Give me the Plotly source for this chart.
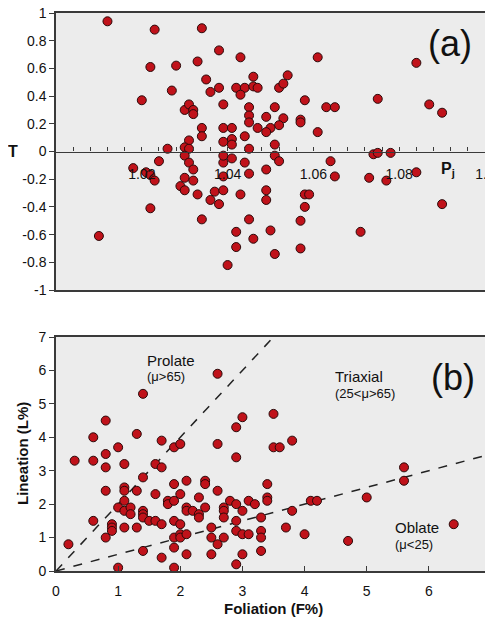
import plotly.graph_objects as go

# ---------------- data: panel (a)  Pj vs T ----------------
pj = [1.012, 1.023, 1.034, 1.022, 1.028, 1.033, 1.038, 1.043, 1.035, 1.027,
      1.020, 1.036, 1.038, 1.042, 1.044, 1.043, 1.039, 1.030, 1.031, 1.032,
      1.032, 1.034, 1.034, 1.039, 1.041, 1.039, 1.041, 1.041, 1.044, 1.031,
      1.030, 1.031, 1.026, 1.046, 1.046, 1.047, 1.052, 1.053, 1.054, 1.058,
      1.063, 1.065, 1.045, 1.051, 1.045, 1.045, 1.049, 1.053, 1.052, 1.050,
      1.049, 1.047, 1.057, 1.057, 1.061, 1.045, 1.051, 1.061, 1.084, 1.075,
      1.087, 1.090,
      1.074, 1.075, 1.078, 1.051, 1.052, 1.044, 1.045, 1.049, 1.064, 1.065,
      1.073, 1.077, 1.084, 1.090, 1.043, 1.049, 1.049, 1.058, 1.059, 1.058,
      1.045, 1.057, 1.050, 1.046, 1.071, 1.057, 1.051, 1.042, 1.042, 1.040,
      1.030, 1.031, 1.032, 1.030, 1.032, 1.029, 1.030, 1.033, 1.034, 1.024,
      1.018, 1.021, 1.022, 1.023, 1.022, 1.010, 1.036, 1.037, 1.038, 1.039,
      1.039, 1.039, 1.039, 1.041]
t_param = [0.94, 0.88, 0.89, 0.61, 0.62, 0.65, 0.73, 0.68, 0.52, 0.44,
           0.37, 0.43, 0.46, 0.46, 0.46, 0.41, 0.34, 0.30, 0.34, 0.30,
           0.27, 0.17, 0.11, 0.17, 0.17, 0.07, 0.09, 0.05, 0.11, 0.08,
           0.03, 0.02, 0.02, 0.54, 0.47, 0.46, 0.46, 0.49, 0.55, 0.37,
           0.32, 0.32, 0.32, 0.32, 0.26, 0.21, 0.25, 0.24, 0.19, 0.17,
           0.14, 0.17, 0.23, 0.21, 0.14, 0.02, 0.05, 0.68, 0.64, 0.38,
           0.34, 0.28,
           -0.02, -0.01, -0.01, -0.03, -0.07, -0.08, -0.16, -0.13, -0.07, -0.18,
           -0.19, -0.21, -0.15, -0.38, -0.31, -0.28, -0.35, -0.31, -0.31, -0.40,
           -0.49, -0.50, -0.57, -0.63, -0.58, -0.70, -0.74, -0.58, -0.69, -0.82,
           -0.03, -0.08, -0.13, -0.19, -0.21, -0.25, -0.28, -0.31, -0.49, -0.07,
           -0.12, -0.15, -0.17, -0.21, -0.41, -0.61, -0.35, -0.29, -0.38, -0.28,
           -0.18, -0.08, -0.03, -0.05]

# ---------------- data: panel (b)  Foliation vs Lineation ----------------
foliation = [0.2, 0.3, 0.6, 0.6, 0.6, 0.8, 0.8, 0.8, 0.8, 0.8,
             0.9, 0.9, 0.9, 1.0, 1.0, 1.0, 1.1, 1.1, 1.1, 1.1,
             1.1, 1.1, 1.2, 1.2, 1.3, 1.3, 1.3, 1.4, 1.4, 1.4,
             1.4, 1.4, 1.4, 1.5, 1.6, 1.6, 1.6, 1.7, 1.7, 1.7,
             1.7, 1.8, 1.8, 1.9, 1.9, 1.9, 1.9, 1.9, 1.9, 1.9,
             2.0, 2.0, 2.0, 2.0, 2.0, 2.1, 2.1, 2.1, 2.1, 2.1,
             2.2, 2.3, 2.3, 2.3, 2.4, 2.4, 2.4, 2.5, 2.5, 2.5,
             2.6, 2.6, 2.6, 2.6, 2.7, 2.7, 2.7, 2.7, 2.8, 2.9,
             2.9, 2.9, 2.9, 2.9, 2.9, 3.0, 3.0, 3.0, 3.0, 3.1,
             3.1, 3.2, 3.3, 3.3, 3.3, 3.3, 3.4, 3.4, 3.4, 3.5,
             3.5, 3.6, 3.7, 3.8, 3.8, 4.0, 4.1, 4.2, 4.7, 5.0,
             5.6, 5.6, 6.4]
lineation = [0.8, 3.3, 4.0, 3.3, 1.5, 4.5, 3.5, 3.1, 2.4, 1.0,
             1.4, 1.3, 1.2, 3.7, 1.9, 0.1, 3.2, 2.5, 2.4, 2.1,
             1.8, 1.3, 1.9, 1.7, 4.1, 2.4, 1.3, 5.3, 2.8, 1.8,
             1.7, 1.6, 0.6, 1.5, 3.2, 2.3, 1.5, 3.9, 3.1, 1.4,
             0.4, 2.1, 2.0, 3.7, 2.6, 2.1, 1.5, 1.0, 0.7, 0.1,
             3.8, 2.3, 1.4, 1.1, 1.0, 2.7, 1.9, 1.8, 1.1, 0.5,
             1.8, 2.2, 1.7, 1.6, 2.7, 2.6, 1.9, 1.3, 1.0, 0.5,
             5.9, 3.8, 2.4, 0.8, 1.9, 1.8, 1.6, 1.0, 2.1, 4.3,
             3.4, 2.0, 1.5, 1.2, 0.2, 4.6, 1.8, 1.1, 0.5, 2.1,
             1.1, 2.0, 1.6, 1.2, 1.0, 0.6, 2.6, 2.2, 2.1, 4.7,
             3.7, 3.7, 1.3, 3.9, 1.8, 1.1, 2.1, 2.1, 0.9, 2.2,
             3.1, 2.7, 1.4]

# shape-field boundaries (from origin)
prolate_f = [0, 3.5]
prolate_l = [0, 7]
oblate_f = [0, 7]
oblate_l = [0, 3.5]

# ---------------- tick labels ----------------
t_tick_vals = [1, 0.8, 0.6, 0.4, 0.2, 0, -0.2, -0.4, -0.6, -0.8, -1]
t_tick_text = ["1", "0.8", "0.6", "0.4", "0.2", "0", "-0.2", "-0.4", "-0.6", "-0.8", "-1"]
pj_major_vals = [1.02, 1.04, 1.06, 1.08, 1.1]
pj_major_text = ["1.02", "1.04", "1.06", "1.08", "1.1"]
pj_minor_vals = [round(1.0 + 0.004 * i, 3) for i in range(26)]
fl_tick_vals = [0, 1, 2, 3, 4, 5, 6, 7]
fl_tick_text = ["0", "1", "2", "3", "4", "5", "6", "7"]

# The page body keeps its default 8px margin, so the figure is drawn 8px in
# from the window's top-left corner; size and place it accordingly.
OFF = 8
W, H = 493 - OFF, 620 - OFF
FONT = "Liberation Sans, Arial, sans-serif"
FRAME = "#3a3a3a"
BG = "#ececec"
FILL = "#c0121a"
EDGE = "#2a0a0a"


def px_x(p):
    return (p - OFF) / W


def px_y(p):
    return 1 - (p - OFF) / H


xa_dom = [px_x(56), px_x(485)]
ya_dom = [px_y(290), px_y(13)]
xb_dom = [px_x(56), px_x(491)]
yb_dom = [px_y(571), px_y(337)]

zero_pos = ya_dom[0] + (0 - (-1)) / 2 * (ya_dom[1] - ya_dom[0])

fig = go.Figure()

marker = dict(size=9, color=FILL, line=dict(color=EDGE, width=1))

fig.add_trace(go.Scatter(x=pj, y=t_param, mode="markers", marker=marker,
                         xaxis="x", yaxis="y", showlegend=False, hoverinfo="x+y"))

fig.add_trace(go.Scatter(x=prolate_f, y=prolate_l, mode="lines",
                         line=dict(color="#222222", width=1.5, dash="dash"),
                         xaxis="x2", yaxis="y2", showlegend=False, hoverinfo="skip"))
fig.add_trace(go.Scatter(x=oblate_f, y=oblate_l, mode="lines",
                         line=dict(color="#222222", width=1.5, dash="dash"),
                         xaxis="x2", yaxis="y2", showlegend=False, hoverinfo="skip"))
fig.add_trace(go.Scatter(x=foliation, y=lineation, mode="markers", marker=marker,
                         xaxis="x2", yaxis="y2", showlegend=False, hoverinfo="x+y"))

# dummy trace so the zero-line axis (x3) renders
fig.add_trace(go.Scatter(x=[None], y=[None], xaxis="x3", yaxis="y", showlegend=False,
                         hoverinfo="skip"))

tickfont = dict(family=FONT, size=14, color="#111111")

fig.update_layout(
    width=W, height=H,
    margin=dict(l=0, r=0, t=0, b=0, autoexpand=False),
    paper_bgcolor="white",
    plot_bgcolor=BG,
    font=dict(family=FONT, color="#111111"),
    xaxis=dict(domain=xa_dom, anchor="y", range=[1.0, 1.1], showgrid=False, zeroline=False,
               showticklabels=False, ticks="", showline=True, mirror=True, automargin=False,
               linecolor=FRAME, linewidth=1.5),
    yaxis=dict(domain=ya_dom, anchor="x", range=[-1, 1], showgrid=False, zeroline=False,
               tickmode="array", tickvals=t_tick_vals, ticktext=t_tick_text,
               ticks="outside", ticklen=5, tickcolor=FRAME, tickfont=tickfont, automargin=False,
               ticklabeloverflow="allow",
               showline=True, mirror=True, linecolor=FRAME, linewidth=1.5),
    xaxis3=dict(overlaying="x", anchor="free", position=zero_pos, range=[1.0, 1.1],
                tickmode="array", tickvals=pj_major_vals, ticktext=pj_major_text,
                ticks="inside", ticklen=4, tickcolor=FRAME, tickfont=tickfont,
                minor=dict(tickmode="array", tickvals=pj_minor_vals, ticks="inside",
                           ticklen=4, tickcolor=FRAME, showgrid=False),
                ticklabelstandoff=10, automargin=False, ticklabeloverflow="allow",
                showline=True, linecolor=FRAME, linewidth=1.2, showgrid=False, zeroline=False),
    xaxis2=dict(domain=xb_dom, anchor="y2", range=[0, 7], showgrid=False, zeroline=False,
                tickmode="array", tickvals=fl_tick_vals, ticktext=fl_tick_text,
                ticks="inside", ticklen=5, tickcolor=FRAME, tickfont=tickfont,
                ticklabelstandoff=6, automargin=False, ticklabeloverflow="allow",
                showline=True, mirror=True, linecolor=FRAME, linewidth=2),
    yaxis2=dict(domain=yb_dom, anchor="x2", range=[0, 7], showgrid=False, zeroline=False,
                tickmode="array", tickvals=fl_tick_vals, ticktext=fl_tick_text,
                ticks="outside", ticklen=5, tickcolor=FRAME, tickfont=tickfont, automargin=False,
                ticklabeloverflow="allow",
                showline=True, mirror=True, linecolor=FRAME, linewidth=2),
)

C = dict(xanchor="center", yanchor="middle", showarrow=False)
ann = []
ann.append(dict(text="<b>T</b>", xref="paper", yref="y", x=px_x(13), y=0,
                font=dict(family=FONT, size=16), **C))
ann.append(dict(text="<b>P<sub>j</sub></b>", xref="x", yref="y", x=1.0914, y=-0.13,
                font=dict(family=FONT, size=16), **C))
ann.append(dict(text="(a)", xref="x", yref="y", x=1.0918, y=0.78,
                font=dict(family=FONT, size=36), **C))
ann.append(dict(text="(b)", xref="x2", yref="y2", x=6.39, y=5.78,
                font=dict(family=FONT, size=36), **C))
L = dict(xanchor="left", yanchor="middle", showarrow=False)
ann.append(dict(text="Prolate", xref="x2", yref="y2", x=1.43, y=6.29,
                font=dict(family=FONT, size=15), **L))
ann.append(dict(text="(\u03bc>65)", xref="x2", yref="y2", x=1.43, y=5.81,
                font=dict(family=FONT, size=13), **L))
ann.append(dict(text="Triaxial", xref="x2", yref="y2", x=4.46, y=5.81,
                font=dict(family=FONT, size=15), **L))
ann.append(dict(text="(25<\u03bc>65)", xref="x2", yref="y2", x=4.46, y=5.30,
                font=dict(family=FONT, size=13), **L))
ann.append(dict(text="Oblate", xref="x2", yref="y2", x=5.42, y=1.29,
                font=dict(family=FONT, size=15), **L))
ann.append(dict(text="(\u03bc<25)", xref="x2", yref="y2", x=5.42, y=0.78,
                font=dict(family=FONT, size=13), **L))
ann.append(dict(text="<b>Lineation (L%)</b>", xref="paper", yref="y2 domain", x=px_x(22), y=0.5,
                textangle=-90, font=dict(family=FONT, size=15), **C))
ann.append(dict(text="<b>Foliation (F%)</b>", xref="x2 domain", yref="paper", x=0.5, y=px_y(608),
                font=dict(family=FONT, size=15), **C))
fig.update_layout(annotations=ann)

fig.write_html("out.html")
